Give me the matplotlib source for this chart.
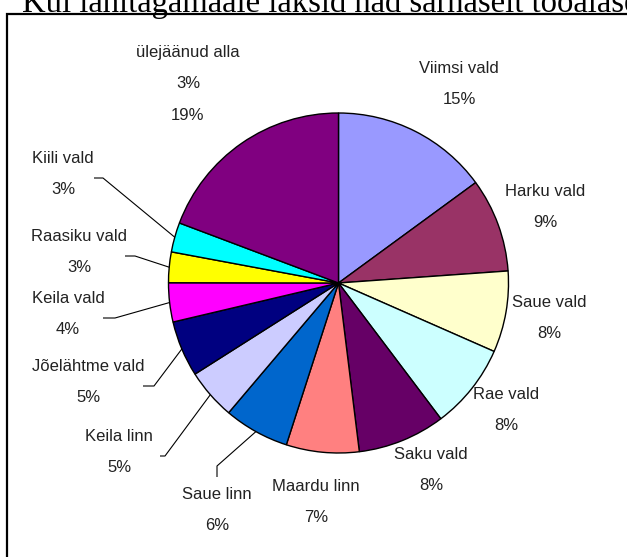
import numpy as np
import matplotlib
matplotlib.use("Agg")
import matplotlib.pyplot as plt
from matplotlib.patches import Rectangle

# slices, clockwise from 12 o'clock
names = ["Viimsi vald", "Harku vald", "Saue vald", "Rae vald", "Saku vald",
         "Maardu linn", "Saue linn", "Keila linn", "Jõelähtme vald",
         "Keila vald", "Raasiku vald", "Kiili vald", "ülejäänud alla"]
shares = [14.9, 8.9, 7.7, 8.1, 8.3, 6.9, 6.2, 4.8, 5.3, 3.7, 2.9, 2.8, 19.2]
pct_text = ["15%", "9%", "8%", "8%", "8%", "7%", "6%", "5%", "5%", "4%",
            "3%", "3%", "3%\n19%"]
colors = ["#9999FF", "#993366", "#FFFFCC", "#CCFFFF", "#660066", "#FF8080",
          "#0066CC", "#CCCCFF", "#000080", "#FF00FF", "#FFFF00", "#00FFFF",
          "#800080"]

W, H = 627, 557

# label block centres in pixels (x, y from top)
label_pos = [(459, 84), (545, 207), (549, 318), (506, 410), (431, 470),
             (316, 502), (217, 510), (119, 452), (88, 382), (68, 314),
             (79, 252), (63, 174), (188, 84)]
# leader lines: start point and elbow (pixels)
leaders = {6: [(217, 477), (217, 466)], 7: [(160, 456), (165, 456)],
           8: [(143, 386), (154, 386)], 9: [(103, 318), (115, 318)],
           10: [(125, 256), (135, 256)], 11: [(94, 178), (103, 178)]}


def px(x, y):
    return x, H - y


fig = plt.figure(figsize=(W / 100, H / 100), dpi=100)
ax = fig.add_axes([0, 0, 1, 1])

cx, cy = px(338.5, 283)
R = 170
wedges, _ = ax.pie(shares, colors=colors, startangle=90, counterclock=False,
                   center=(cx, cy), radius=R,
                   wedgeprops=dict(edgecolor="black", linewidth=1.0))

for i, nm in enumerate(names):
    x, y = px(*label_pos[i])
    ax.text(x, y, nm + "\n" + pct_text[i], ha="center", va="center",
            multialignment="center", fontsize=12, family="Liberation Sans",
            color="#222222", linespacing=2.35)

for i, pts in leaders.items():
    w = wedges[i]
    ang = np.deg2rad((w.theta1 + w.theta2) / 2)
    ex, ey = cx + R * np.cos(ang), cy + R * np.sin(ang)
    xs = [px(*p)[0] for p in pts] + [ex]
    ys = [px(*p)[1] for p in pts] + [ey]
    ax.plot(xs, ys, color="black", lw=0.8, solid_capstyle="butt")

# chart frame (runs off the right and bottom edges)
ax.add_patch(Rectangle(px(6.5, 600), 800, 600 - 14, fill=False,
                       edgecolor="black", linewidth=1.6, clip_on=False))

ax.set_xlim(0, W)
ax.set_ylim(0, H)
ax.set_aspect("equal")
ax.axis("off")

# title line, mostly cut off by the top edge
fig.text(22 / W, 1 - 12 / H, "Kui lähitagamaale läksid nad sarnaselt tööalaselt",
         ha="left", va="baseline", fontsize=23.5, family="Liberation Serif")

fig.savefig("out.png", dpi=100)
